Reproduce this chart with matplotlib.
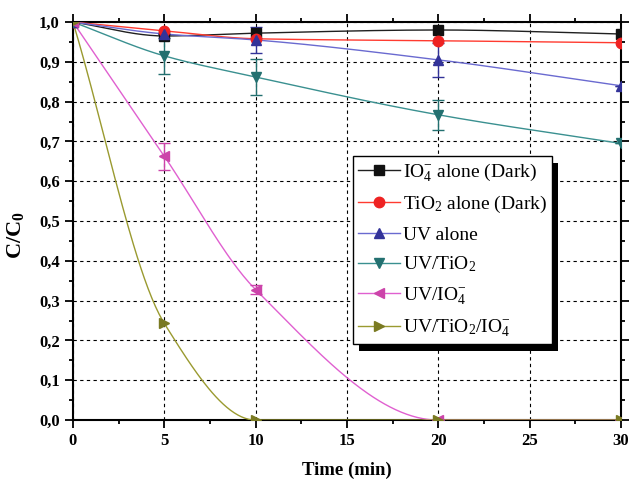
import matplotlib
matplotlib.use('Agg')
import matplotlib.pyplot as plt  # figura
import matplotlib.patches as mpatches  # sombra da legenda
from matplotlib.ticker import MultipleLocator, FuncFormatter
import numpy as np

plt.rcParams['font.family'] = ['Liberation Serif', 'DejaVu Serif']
plt.rcParams['mathtext.fontset'] = 'custom'
plt.rcParams['mathtext.rm'] = 'Liberation Serif'
plt.rcParams['mathtext.bf'] = 'Liberation Serif:bold'
plt.rcParams['mathtext.it'] = 'Liberation Serif:italic'

# dados
tempo = [0, 5, 10, 20, 30]
io4_escuro = [1.0, 0.965, 0.972, 0.980, 0.970]
tio2_escuro = [1.0, 0.978, 0.958, 0.953, 0.948]
uv_so = [1.0, 0.970, 0.955, 0.905, 0.840]
uv_tio2 = [1.0, 0.915, 0.862, 0.767, 0.695]
uv_io4 = [1.0, 0.663, 0.328, 0.0, 0.0]
uv_tio2_io4 = [1.0, 0.243, 0.0, 0.0, 0.0]

# barras de erro
err_uv_so = [0, 0.0, 0.032, 0.043, 0.0]
err_uv_tio2 = [0, 0.045, 0.045, 0.037, 0.0]
err_uv_io4 = [0, 0.034, 0.012, 0.0, 0.0]

rotulos = [r'IO$_4^{-}$ alone (Dark)', r'TiO$_2$ alone (Dark)', 'UV alone',
           r'UV/TiO$_2$', r'UV/IO$_4^{-}$', r'UV/TiO$_2$/IO$_4^{-}$']


def pchip(x, y, xs):
    # curva suave (hermite monotona) entre os pontos
    x = np.asarray(x, float); y = np.asarray(y, float)
    h = np.diff(x); d = np.diff(y) / h
    m = np.zeros_like(y)
    m[0] = d[0]; m[-1] = d[-1]
    for k in range(1, len(x) - 1):
        if d[k - 1] * d[k] <= 0:
            m[k] = 0
        else:
            w1 = 2 * h[k] + h[k - 1]; w2 = h[k] + 2 * h[k - 1]
            m[k] = (w1 + w2) / (w1 / d[k - 1] + w2 / d[k])
    out = np.empty_like(xs)
    for i, xv in enumerate(xs):
        k = min(np.searchsorted(x, xv, side='right') - 1, len(x) - 2)
        k = max(k, 0)
        t = (xv - x[k]) / h[k]
        h00 = 2*t**3 - 3*t**2 + 1; h10 = t**3 - 2*t**2 + t
        h01 = -2*t**3 + 3*t**2; h11 = t**3 - t**2
        out[i] = h00*y[k] + h10*h[k]*m[k] + h01*y[k+1] + h11*h[k]*m[k+1]
    return out


series = [io4_escuro, tio2_escuro, uv_so, uv_tio2, uv_io4, uv_tio2_io4]
cores_linha = ['#202020', '#ff3b30', '#6a6ad0', '#3a9090', '#e060d0', '#9a9a30']
cores_marc = ['#111111', '#ee2222', '#333399', '#237070', '#cc44aa', '#7a7a22']
marcadores = ['s', 'o', '^', 'v', '<', '>']
erros = [None, None, err_uv_so, err_uv_tio2, err_uv_io4, None]

fig = plt.figure(figsize=(6.29, 4.79), dpi=100)
ax = fig.add_axes([0.116, 0.123, 0.871, 0.831])

xs = np.linspace(0, 30, 300)
handles = []
for y, cl, cm, mk, e, lab in zip(series, cores_linha, cores_marc, marcadores, erros, rotulos):
    ax.plot(xs, pchip(tempo, y, xs), color=cl, lw=1.0, zorder=3)
    if e is not None:
        ax.errorbar(tempo, y, yerr=e, fmt='none', ecolor=cm, elinewidth=1.0,
                    capsize=4, capthick=1.0, zorder=3)
    ax.plot(tempo, y, ls='none', marker=mk, ms=7.5, color=cm, zorder=4)
    h, = ax.plot([], [], color=cl, lw=1.0, marker=mk, ms=7.5, mfc=cm, mec=cm)
    handles.append(h)

ax.set_xlim(0, 30)
ax.set_ylim(0, 1.0)
ax.xaxis.set_major_locator(MultipleLocator(5))
ax.xaxis.set_minor_locator(MultipleLocator(2.5))
ax.yaxis.set_major_locator(MultipleLocator(0.1))
ax.yaxis.set_minor_locator(MultipleLocator(0.05))
ax.yaxis.set_major_formatter(FuncFormatter(lambda v, p: f'{v:.1f}'.replace('.', ',')))
ax.tick_params(which='both', direction='out', top=True, right=True, width=1.3)
ax.tick_params(which='major', length=6, labelsize=12)
ax.tick_params(which='minor', length=3)
for lbl in ax.get_xticklabels() + ax.get_yticklabels():
    lbl.set_fontweight('bold')
for s in ax.spines.values():
    s.set_linewidth(1.5)
ax.grid(True, which='major', color='black', ls=(0, (3, 3)), lw=0.8, zorder=1)
ax.set_axisbelow(True)

ax.set_xlabel('Time (min)', fontsize=13.5, fontweight='bold', labelpad=9)
ax.set_ylabel(r'C/C$_\mathbf{0}$', fontsize=16, fontweight='bold')
ax.yaxis.set_label_coords(-0.085, 0.465)

leg = ax.legend(handles, rotulos, loc='upper left', bbox_to_anchor=(0.511, 0.663),
                fontsize=14, frameon=True, fancybox=False, framealpha=1,
                handlelength=2.15, labelspacing=0.56, borderpad=0.25,
                handletextpad=0.2, borderaxespad=0)
leg.get_frame().set_edgecolor('black')
leg.get_frame().set_facecolor('white')
leg.get_frame().set_linewidth(1.0)
leg.set_zorder(10)

fig.canvas.draw()
bb = leg.get_window_extent()
W, H = fig.bbox.width, fig.bbox.height
sombra = mpatches.Rectangle(((bb.x0 + 6) / W, (bb.y0 - 7) / H), bb.width / W, bb.height / H,
                            transform=fig.transFigure, facecolor='black', edgecolor='none',
                            zorder=9)
ax.add_artist(sombra)
sombra.set_clip_on(False)

fig.savefig('out.png', dpi=100)
